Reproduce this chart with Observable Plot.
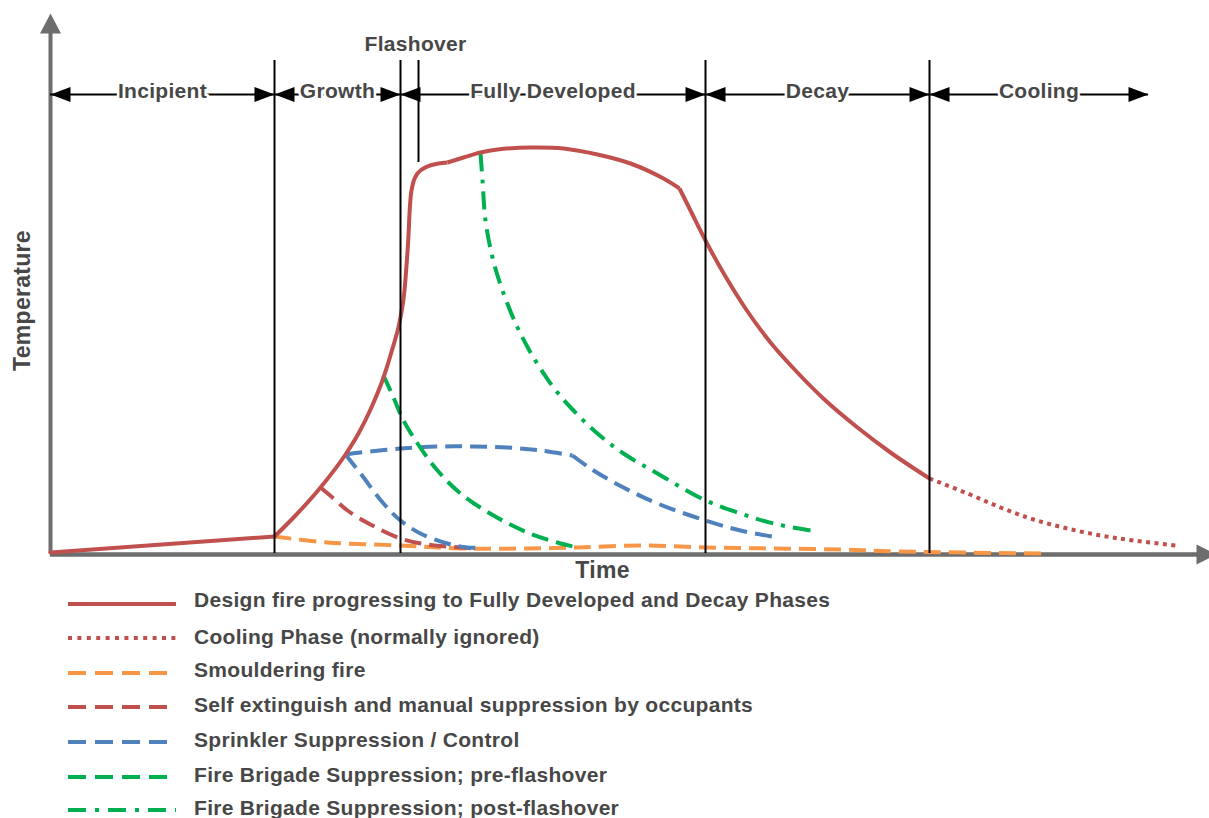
<!DOCTYPE html>
<html><head><meta charset="utf-8">
<script src="https://cdn.jsdelivr.net/npm/d3@7"></script>
<script src="https://cdn.jsdelivr.net/npm/@observablehq/plot@0.6"></script>
<style>
html,body{margin:0;padding:0;background:#fff;overflow:hidden;}
#page{position:relative;width:1209px;height:818px;overflow:hidden;font-family:"Liberation Sans",Arial,Helvetica,sans-serif;}
#chart{position:absolute;left:0;top:0;}
#chart text{letter-spacing:0.3px;}
.leg{position:absolute;left:0;width:1209px;height:30px;}
.leg svg{position:absolute;left:68px;}
.leg span{position:absolute;left:194px;top:0;line-height:30px;font-weight:bold;font-size:21px;letter-spacing:0.3px;color:#474747;white-space:nowrap;}
</style></head><body><div id="page"><div id="chart"></div><div id="legend"></div></div>
<script>
// ---- data (time units, temperature units; schematic) ----
const phaseNames = ["Incipient", "Growth", "Fully Developed", "Decay", "Cooling"];
const phaseStart = [0, 22.4, 35.0, 65.5, 87.9];
const phaseEnd   = [22.4, 35.0, 65.5, 87.9, 109.8];
const boundaries = [22.4, 35.0, 65.5, 87.9];
const flashoverEnd = 36.8;

const designIncipient = [[0,0.2],[22.4,3.4]];
const designGrowth = [[22.4,3.4],[24.5,7.6],[27.0,13.2],[29.5,19.8],[30.8,24.0],[32.0,28.8],[33.3,35.2],[34.2,41.0],[35.0,47.2],[35.4,52.6],[35.6,57.6],[35.8,63.6],[35.9,68.0],[36.0,71.0],[36.2,73.6],[36.7,76.0],[37.7,77.4],[38.8,78.0],[39.7,78.2]];
const designFully = [[39.7,78.2],[41.3,79.2],[43.0,80.2],[44.7,80.8],[48.0,81.2],[51.3,81.0],[54.7,79.8],[58.0,78.0],[61.3,75.0],[62.9,73.0]];
const designDecay = [[62.9,73.0],[64.0,68.6],[65.5,62.6],[67.5,55.4],[69.5,49.0],[72.0,42.2],[74.5,36.6],[77.5,30.6],[80.7,25.2],[84.0,20.2],[87.9,15.0]];
const cooling = [[87.9,15.0],[91.7,12.0],[95.0,9.2],[98.3,6.8],[101.7,5.0],[105.0,3.6],[108.3,2.6],[112.5,1.6]];
const smouldering = [[22.4,3.4],[27.7,2.2],[35.0,1.6],[41.0,1.0],[47.7,1.0],[52.7,1.2],[59.0,1.6],[65.7,1.2],[72.3,1.0],[79.0,0.8],[85.0,0.4],[99.3,0]];
const selfExtinguish = [[27.0,13.2],[28.2,11.2],[29.7,8.6],[32.0,5.8],[35.0,3.0],[37.7,1.8],[41.0,1.2],[42.7,1.0]];
const sprinklerControl = [[29.5,19.8],[31.0,20.2],[35.0,21.0],[39.0,21.4],[42.3,21.4],[45.7,21.2],[49.0,20.6],[52.2,19.6]];
const sprinklerControlDecay = [[52.2,19.6],[54.0,17.0],[57.3,13.2],[60.7,10.0],[65.5,6.6],[69.0,4.6],[72.7,3.2]];
const sprinklerSuppress = [[29.5,19.8],[31.0,16.0],[33.3,10.0],[35.0,6.6],[37.0,4.0],[39.7,2.0],[41.7,1.2],[43.3,1.2]];
const brigadePre = [[33.3,35.6],[34.3,31.2],[35.3,26.6],[36.7,22.0],[38.7,16.6],[41.0,12.0],[44.3,7.6],[47.7,4.2],[51.0,2.0],[52.7,1.2]];
const brigadePost = [[43.0,80.0],[43.2,74.6],[43.5,66.6],[44.2,59.2],[45.2,52.6],[46.7,45.2],[48.3,39.2],[50.3,33.2],[52.3,28.6],[54.7,24.0],[57.3,20.0],[60.7,16.0],[65.3,10.8],[69.0,8.0],[72.3,6.0],[76.0,4.6]];

const legendLabels = [
  "Design fire progressing to Fully Developed and Decay Phases",
  "Cooling Phase (normally ignored)",
  "Smouldering fire",
  "Self extinguish and manual suppression by occupants",
  "Sprinkler Suppression / Control",
  "Fire Brigade Suppression; pre-flashover",
  "Fire Brigade Suppression; post-flashover"
];

// ---- styles ----
const RED = "#c0504d", ORANGE = "#f79646", BLUE = "#4f81bd", GREEN = "#00b050", AXIS = "#6d6d6d", TEXT = "#474747";
const DASH = "17,8", DOT = "4,4.4", DASHDOT = "18,8,4,8";
const legendStyles = [
  {color: RED, dash: null}, {color: RED, dash: "4,5.4"}, {color: ORANGE, dash: "18,9"},
  {color: RED, dash: "18,9"}, {color: BLUE, dash: "18,9"}, {color: GREEN, dash: "18,9"},
  {color: GREEN, dash: "18,9,4,9"}
];

const arrowT = 91.8, lineTop = 98.6, flashLineBottom = 78.2;

const headRight = {draw(c){c.moveTo(0,0);c.lineTo(-20,-7.5);c.lineTo(-20,7.5);c.closePath();}};
const headLeft  = {draw(c){c.moveTo(0,0);c.lineTo(20,-7.5);c.lineTo(20,7.5);c.closePath();}};
const headUp    = {draw(c){c.moveTo(0,0);c.lineTo(-10.5,20);c.lineTo(10.5,20);c.closePath();}};
const headAxisR = {draw(c){c.moveTo(0,0);c.lineTo(-20,-10);c.lineTo(-20,10);c.closePath();}};

const X = d => d[0], Y = d => d[1];
const curveLine = (data, stroke, dash, curve = "catmull-rom") => Plot.line(data, {x: X, y: Y, stroke, strokeWidth: 4, curve, strokeDasharray: dash ?? undefined, strokeLinecap: "butt"});
const idx = phaseNames.map((_, i) => i);
const labelFont = {fontSize: 21, fontWeight: "bold", fill: TEXT};

const chart = Plot.plot({
  width: 1209, height: 590,
  marginLeft: 50, marginRight: 0, marginTop: 53, marginBottom: 37,
  x: {domain: [0, 115.9], axis: null},
  y: {domain: [0, 100], axis: null},
  style: {fontFamily: "'Liberation Sans', Arial, Helvetica, sans-serif", background: "white", overflow: "visible"},
  marks: [
    // axes
    Plot.ruleX([0], {y1: 0, y2: 104.5, stroke: AXIS, strokeWidth: 4}),
    Plot.ruleY([0], {x1: 0, x2: 115, stroke: AXIS, strokeWidth: 4.5, dy: 1}),
    Plot.dot([0], {x: 0, y: 108.0, symbol: headUp, fill: AXIS}),
    Plot.dot([0], {x: 116.6, y: 0, dy: 1, symbol: headAxisR, fill: AXIS}),
    // curves
    curveLine(smouldering, ORANGE, DASH),
    curveLine(selfExtinguish, RED, DASH),
    curveLine(sprinklerSuppress, BLUE, DASH),
    curveLine(sprinklerControl, BLUE, DASH),
    curveLine(sprinklerControlDecay, BLUE, DASH),
    curveLine(brigadePre, GREEN, DASH),
    curveLine(brigadePost, GREEN, DASHDOT),
    curveLine(cooling, RED, DOT),
    Plot.line(designIncipient, {x: X, y: Y, stroke: RED, strokeWidth: 4}),
    curveLine(designGrowth, RED, null, "monotone-x"),
    curveLine(designFully, RED),
    curveLine(designDecay, RED, null, "monotone-x"),
    // phase boundaries
    Plot.ruleX(boundaries, {y1: 0, y2: lineTop, stroke: "black", strokeWidth: 2}),
    Plot.ruleX([flashoverEnd], {y1: flashLineBottom, y2: lineTop, stroke: "black", strokeWidth: 2}),
    // phase arrows
    Plot.ruleY([arrowT], {x1: phaseStart[0], x2: phaseEnd[phaseEnd.length - 1], stroke: "black", strokeWidth: 2}),
    Plot.dot(idx, {x: i => phaseEnd[i], y: () => arrowT, symbol: headRight, fill: "black"}),
    Plot.dot(idx, {x: i => phaseStart[i], y: () => arrowT, symbol: headLeft, fill: "black"}),
    Plot.text(idx, {x: i => (phaseStart[i] + phaseEnd[i]) / 2, y: () => arrowT, text: i => phaseNames[i], dy: -3.7, stroke: "white", strokeWidth: 5, ...labelFont}),
    Plot.text(["Flashover"], {x: 36.5, y: 101.9, text: d => d, ...labelFont}),
    // axis titles
    Plot.text(["Temperature"], {x: -2.8, y: 50.6, rotate: -90, text: d => d, ...labelFont, fontSize: 23}),
    Plot.text(["Time"], {x: 55.2, y: -3.5, text: d => d, ...labelFont, fontSize: 23})
  ]
});
document.getElementById("chart").append(chart);

// ---- legend (HTML, below the SVG) ----
const rowCenters = [599.5, 637, 670, 704.5, 740, 775, 807.5];
const swatchCenters = [604, 638, 673, 707, 742, 777, 810];
const legend = document.getElementById("legend");
legendLabels.forEach((label, i) => {
  const row = document.createElement("div");
  row.className = "leg";
  row.style.top = (rowCenters[i] - 15) + "px";
  const st = legendStyles[i];
  const sy = swatchCenters[i] - rowCenters[i] + 15 - 5;
  row.innerHTML = `<svg width="110" height="10" style="top:${sy}px"><line x1="0" y1="5" x2="108" y2="5" stroke="${st.color}" stroke-width="4" ${st.dash ? `stroke-dasharray="${st.dash}"` : ""}/></svg><span>${label}</span>`;
  legend.append(row);
});
</script></body></html>
